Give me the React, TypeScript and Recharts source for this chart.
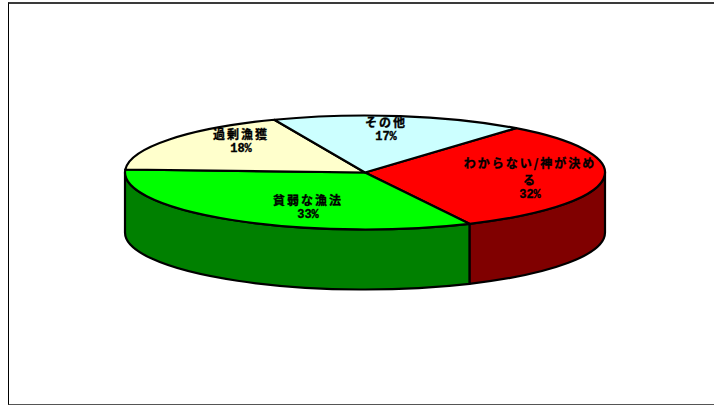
import React from "react";
import { PieChart, Pie, Cell } from "recharts";

// Causes and their shares, clockwise from the first slice
const causes = ["わからない/神が決める", "貧弱な漁法", "過剰漁獲", "その他"];
const shares = [32, 33, 18, 17];
const labelLines = [["わからない/神が決め", "る"], ["貧弱な漁法"], ["過剰漁獲"], ["その他"]];
const topColors = ["#ff0000", "#00ff00", "#ffffcc", "#ccffff"];
const wallColors = ["#800000", "#008000", "#808066", "#668080"];

const rows = causes.map((name, i) => ({ name, value: shares[i] }));

const WIDTH = 714;
const HEIGHT = 405;
const CX = 365;
const CY = 172.5;
const RX = 240;
const RY = 57;
const DEPTH = 60;
const START = 51;

const labelCentres = [
  { x: 530, y: 162 },
  { x: 308, y: 199 },
  { x: 241, y: 133 },
  { x: 386, y: 121 },
];

const rad = (deg: number) => (deg * Math.PI) / 180;
const px = (cx: number, r: number, a: number) => cx + r * Math.cos(rad(a));
const py = (cy: number, r: number, a: number) => cy - (r * RY) / RX * Math.sin(rad(a));

// Flattened slice on the top face of the disc
const TopSlice = (p: any) => {
  const { cx, cy, outerRadius: r, startAngle: a0, endAngle: a1, fill } = p;
  const ry = (r * RY) / RX;
  const large = Math.abs(a0 - a1) > 180 ? 1 : 0;
  const d = `M${cx},${cy} L${px(cx, r, a0)},${py(cy, r, a0)} A${r},${ry} 0 ${large} 1 ${px(cx, r, a1)},${py(cy, r, a1)} Z`;
  return <path d={d} fill={fill} stroke="#000" strokeWidth={2.2} strokeLinejoin="round" />;
};

// Visible rim of a slice: only the part on the near half of the disc
const WallSlice = (p: any) => {
  const { cx, cy, outerRadius: r, startAngle, endAngle, fill } = p;
  const ry = (r * RY) / RX;
  let hi = Math.max(startAngle, endAngle);
  let lo = Math.min(startAngle, endAngle);
  hi = Math.min(hi, 0);
  lo = Math.max(lo, -180);
  if (hi <= lo) return <g />;
  const d = `M${px(cx, r, hi)},${py(cy, r, hi)} A${r},${ry} 0 0 1 ${px(cx, r, lo)},${py(cy, r, lo)} L${px(cx, r, lo)},${py(cy, r, lo) + DEPTH} A${r},${ry} 0 0 0 ${px(cx, r, hi)},${py(cy, r, hi) + DEPTH} Z`;
  return <path d={d} fill={fill} stroke="#000" strokeWidth={2.2} strokeLinejoin="round" />;
};

const SliceLabel = (p: any) => {
  const i = p.index as number;
  const c = labelCentres[i];
  const lines = labelLines[i];
  return (
    <g fill="#000" stroke="#000" strokeWidth={0.35} fontWeight="bold" textAnchor="middle">
      {lines.map((t, k) => (
        <text key={k} x={c.x} y={c.y + k * 17} dominantBaseline="central" fontFamily="'Noto Sans CJK JP'" fontSize={12} letterSpacing={2}>
          {t}
        </text>
      ))}
      <text x={c.x} y={c.y + (lines.length - 1) * 17 + 16} dominantBaseline="central" fontFamily="'Liberation Mono'" fontSize={12}>
        {`${shares[i]}%`}
      </text>
    </g>
  );
};

export default function App() {
  return (
    <div style={{ position: "fixed", left: 0, top: 0, width: WIDTH, height: HEIGHT, overflow: "hidden", background: "#fff" }}>
      <div
        style={{
          position: "absolute",
          left: 8,
          top: 2,
          width: 760,
          height: 400,
          borderLeft: "1px solid #000",
          borderTop: "2px solid #3a3a3a",
          borderBottom: "1px solid #555",
        }}
      />
      <div style={{ position: "absolute", left: 0, top: 0 }}>
        <PieChart width={WIDTH} height={HEIGHT} margin={{ top: 0, right: 0, bottom: 0, left: 0 }}>
          <Pie
            data={rows}
            dataKey="value"
            nameKey="name"
            cx={CX}
            cy={CY}
            innerRadius={0}
            outerRadius={RX}
            startAngle={START}
            endAngle={START - 360}
            paddingAngle={0}
            isAnimationActive={false}
            shape={WallSlice}
            legendType="none"
          >
            {rows.map((r, i) => (
              <Cell key={r.name} fill={wallColors[i]} />
            ))}
          </Pie>
          <Pie
            data={rows}
            dataKey="value"
            nameKey="name"
            cx={CX}
            cy={CY}
            innerRadius={0}
            outerRadius={RX}
            startAngle={START}
            endAngle={START - 360}
            paddingAngle={0}
            isAnimationActive={false}
            shape={TopSlice}
            label={SliceLabel}
            labelLine={false}
            legendType="none"
          >
            {rows.map((r, i) => (
              <Cell key={r.name} fill={topColors[i]} />
            ))}
          </Pie>
        </PieChart>
      </div>
    </div>
  );
}
